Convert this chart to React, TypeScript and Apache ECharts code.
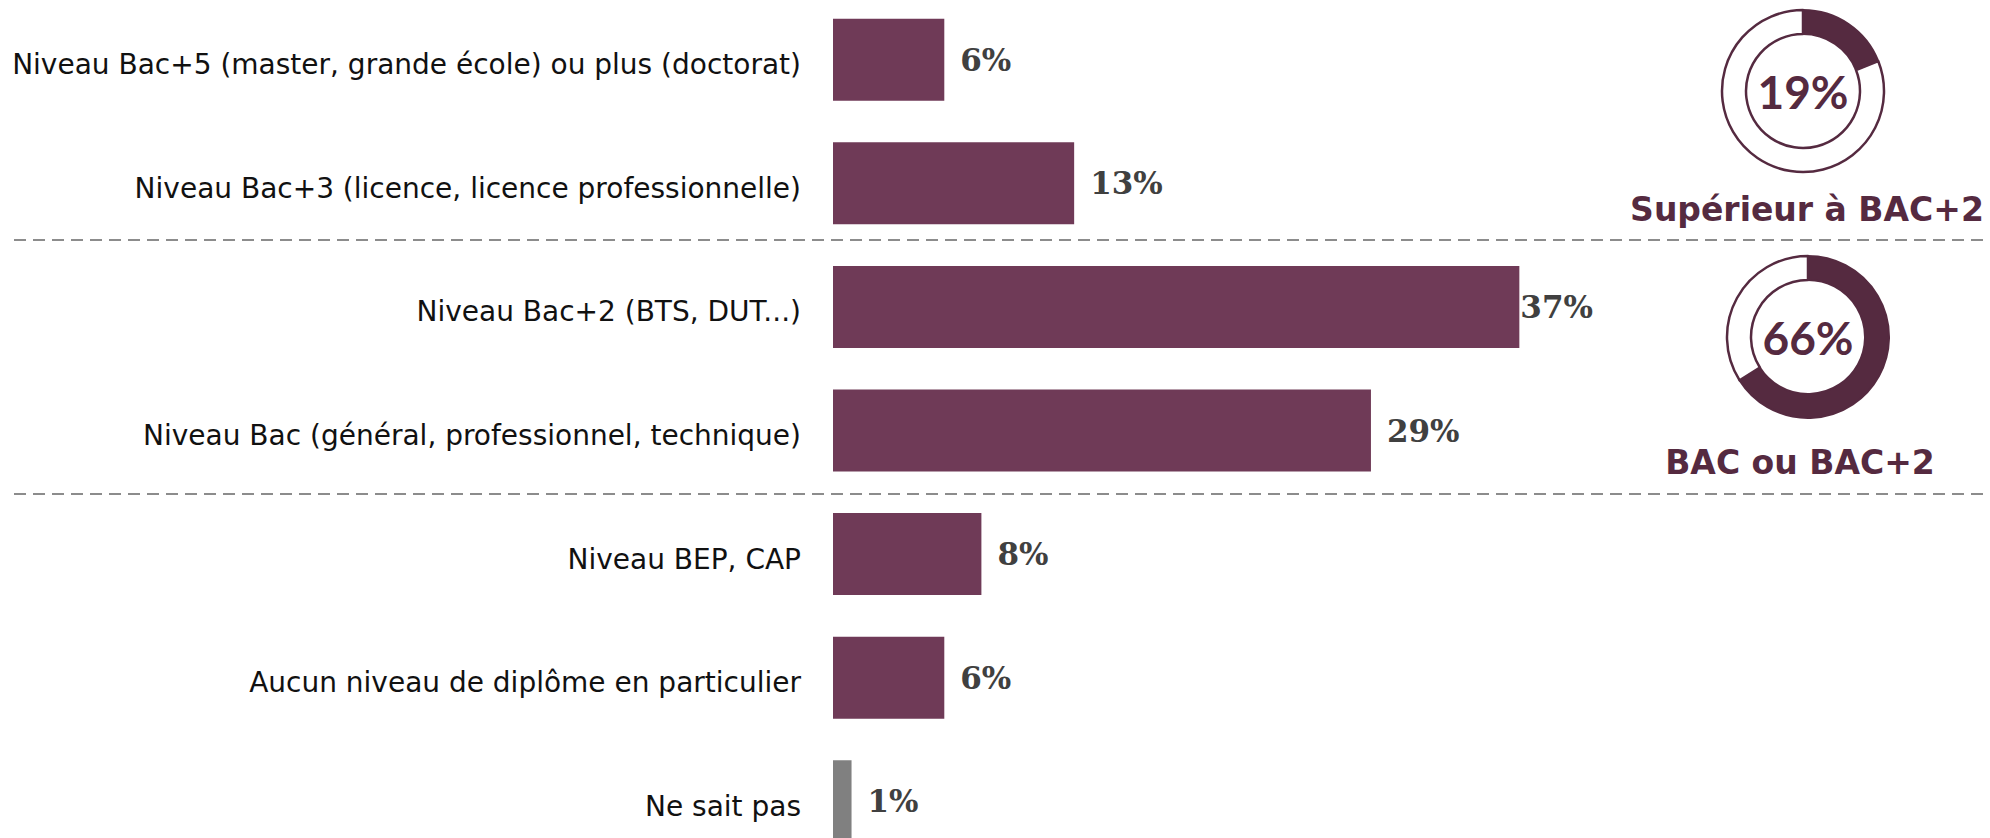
import React, { useEffect, useRef } from "react";
import * as echarts from "echarts";

const categories = [
  "Niveau Bac+5 (master, grande école) ou plus (doctorat)",
  "Niveau Bac+3 (licence, licence professionnelle)",
  "Niveau Bac+2 (BTS, DUT...)",
  "Niveau Bac (général, professionnel, technique)",
  "Niveau BEP, CAP",
  "Aucun niveau de diplôme en particulier",
  "Ne sait pas",
];
const values = [6, 13, 37, 29, 8, 6, 1];
const grayCategories = ["Ne sait pas"];

const donutNames = ["Supérieur à BAC+2", "BAC ou BAC+2"];
const donutValues = [19, 66];

const BAR = "#6f3a57";
const GRAY = "#808080";
const DARK = "#552a40";

// chart div is shifted up by OFF px so its grid can extend below the page
const OFF = 2;

export default function App() {
  const ref = useRef<HTMLDivElement>(null);
  useEffect(() => {
    if (!ref.current) return;
    const chart = echarts.init(ref.current, null, { renderer: "svg" });

    const barData = values.map((v, i) => {
      const item: any = {
        value: v,
        itemStyle: { color: grayCategories.includes(categories[i]) ? GRAY : BAR },
      };
      if (v === Math.max(...values)) {
        item.label = { distance: 1 };
      }
      return item;
    });

    const donutCenters = [
      [1803, 91 + OFF],
      [1808, 337 + OFF],
    ];
    const donutTitlePos = [
      [1807, 209 + OFF],
      [1800, 462 + OFF],
    ];

    const pieSeries = donutValues.map((v, i) => ({
      type: "pie",
      center: donutCenters[i],
      radius: [57, 81],
      startAngle: 90,
      clockwise: true,
      silent: true,
      labelLine: { show: false },
      data: [
        {
          value: v,
          itemStyle: { color: DARK, borderColor: DARK, borderWidth: 2 },
          label: {
            show: true,
            position: "center",
            formatter: "{c}%",
            fontFamily: "Lato",
            fontWeight: "bold",
            fontSize: 46,
            color: DARK,
          },
        },
        {
          value: 100 - v,
          itemStyle: { color: "#ffffff", borderColor: DARK, borderWidth: 2.5 },
          label: { show: false },
        },
      ],
    }));

    chart.setOption({
      animation: false,
      backgroundColor: "#ffffff",
      grid: { left: 833, right: 44, top: 0, height: 865, containLabel: false },
      xAxis: { type: "value", min: 0, max: 60, show: false },
      yAxis: {
        type: "category",
        inverse: true,
        data: categories,
        axisLine: { show: false },
        axisTick: { show: false },
        splitLine: { show: false },
        axisLabel: {
          margin: 32,
          formatter: (v: string) => `{t|${v}}`,
          rich: {
            t: {
              fontFamily: "DejaVu Sans",
              fontSize: 28,
              color: "#111111",
              padding: [10, 0, 0, 0],
            },
          },
        },
      },
      series: [
        {
          type: "bar",
          data: barData,
          barWidth: 82,
          label: {
            show: true,
            position: "right",
            distance: 16,
            formatter: "{c}%",
            fontFamily: "DejaVu Serif",
            fontWeight: "bold",
            fontSize: 31,
            color: "#404040",
          },
        },
        ...pieSeries,
      ],
      graphic: [
        {
          type: "line",
          shape: { x1: 14, y1: 240 + OFF, x2: 1990, y2: 240 + OFF },
          style: { stroke: "#8c8c8c", lineWidth: 2, lineDash: [12, 7] },
        },
        {
          type: "line",
          shape: { x1: 14, y1: 494 + OFF, x2: 1990, y2: 494 + OFF },
          style: { stroke: "#8c8c8c", lineWidth: 2, lineDash: [12, 7] },
        },
        ...donutNames.map((n, i) => ({
          type: "text",
          x: donutTitlePos[i][0],
          y: donutTitlePos[i][1],
          style: {
            text: n,
            fontFamily: "DejaVu Sans",
            fontWeight: "bold",
            fontSize: 33,
            fill: DARK,
            textAlign: "center",
            textVerticalAlign: "middle",
          },
        })),
      ],
    });
    return () => chart.dispose();
  }, []);
  return (
    <div
      style={{
        position: "fixed",
        left: 0,
        top: 0,
        width: 1990,
        height: 838,
        overflow: "hidden",
        background: "#ffffff",
      }}
    >
      <div
        ref={ref}
        style={{ position: "absolute", left: 0, top: -OFF, width: 1990, height: 870 }}
      />
    </div>
  );
}
